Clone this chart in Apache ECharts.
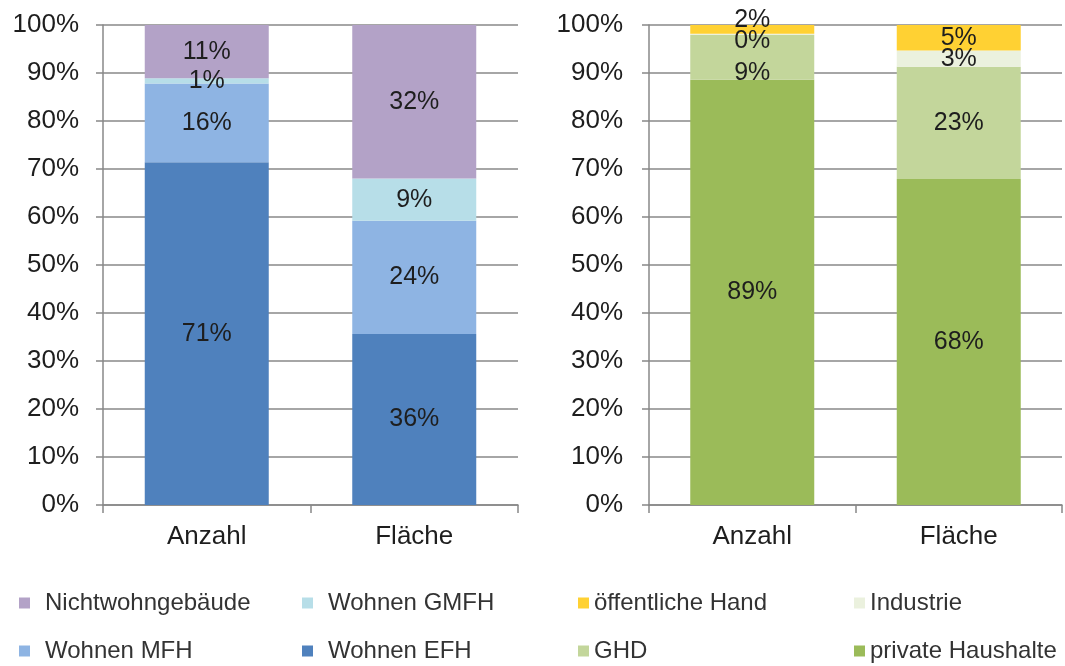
<!DOCTYPE html>
<html>
<head>
<meta charset="utf-8">
<script src="https://cdn.jsdelivr.net/npm/echarts@6/dist/echarts.min.js"></script>
<style>
  html, body { margin: 0; padding: 0; background: #fff; }
  #chart { width: 1065px; height: 666px; }
</style>
</head>
<body>
<div id="chart"></div>
<script>
// Kategorien (beide Diagramme)
const categories = ['Anzahl', 'Fläche']
const yTicks = [0, 10, 20, 30, 40, 50, 60, 70, 80, 90, 100]

// linkes Diagramm: Gebäudetypen (Anteile in %)
const wohnenEFH = [71.4, 35.6]
const wohnenMFH = [16.4, 23.6]
const wohnenGMFH = [1.1, 8.8]
const nichtwohn = [11.1, 32.0]

// rechtes Diagramm: Eigentümer (Anteile in %)
const privateHH = [88.6, 67.9]
const ghd = [9.3, 23.4]
const industrie = [0.3, 3.4]
const oeffentlich = [1.8, 5.3]

const font = 'Liberation Sans, Arial, sans-serif'
const gridColor = '#888888'

var myChart = echarts.init(document.getElementById('chart'))

const pct = p => Math.round(p.value) + '%'

// Serie bauen; offsets nur für Beschriftungen, die sich sonst überlappen
const makeSeries = (name, data, color, idx, offsets) => ({
  name: name,
  type: 'bar',
  stack: 'st' + idx,
  xAxisIndex: idx,
  yAxisIndex: idx,
  barWidth: 124,
  itemStyle: { color: color },
  label: {
    show: true,
    position: 'inside',
    formatter: pct,
    fontFamily: font,
    fontSize: 25,
    color: '#1e1e1e'
  },
  data: data.map((v, i) => offsets && offsets[i] ? { value: v, label: { offset: offsets[i] } } : v)
})

const xAxisCfg = idx => ({
  type: 'category',
  gridIndex: idx,
  data: categories,
  axisLine: { lineStyle: { color: gridColor, width: 1.5 } },
  axisTick: { show: true, length: 8, lineStyle: { color: gridColor, width: 1.5 } },
  axisLabel: { color: '#1e1e1e', fontFamily: font, fontSize: 26, margin: 19 }
})

const yAxisCfg = (idx, margin) => ({
  type: 'value',
  gridIndex: idx,
  min: 0,
  max: 100,
  interval: 10,
  axisLine: { show: true, lineStyle: { color: gridColor, width: 1.5 } },
  axisTick: { show: true, length: 7, lineStyle: { color: gridColor, width: 1.5 } },
  splitLine: { lineStyle: { color: gridColor, width: 1.5 } },
  axisLabel: { color: '#1e1e1e', fontFamily: font, fontSize: 26, margin: margin, formatter: v => yTicks.includes(v) ? v + '%' : '' }
})

// jede Legendenzeile einzeln, damit die Spalten fest stehen
const legendCfg = (left, top, name, pad) => ({
  left: left,
  top: top,
  itemWidth: 11,
  itemHeight: 11,
  icon: 'rect',
  data: [name],
  selectedMode: false,
  textStyle: { fontFamily: font, fontSize: 24, color: '#333', lineHeight: 24, padding: [0, 0, 0, pad] }
})

var option = {
  animation: false,
  grid: [
    { left: 103, top: 25, width: 415, height: 480 },
    { left: 649, top: 25, width: 413, height: 480 }
  ],
  xAxis: [xAxisCfg(0), xAxisCfg(1)],
  yAxis: [yAxisCfg(0, 24), yAxisCfg(1, 26)],
  legend: [
    legendCfg(14, 586, 'Nichtwohngebäude', 10),
    legendCfg(14, 634, 'Wohnen MFH', 10),
    legendCfg(297, 586, 'Wohnen GMFH', 10),
    legendCfg(297, 634, 'Wohnen EFH', 10),
    legendCfg(573, 586, 'öffentliche Hand', 0),
    legendCfg(573, 634, 'GHD', 0),
    legendCfg(849, 586, 'Industrie', 0),
    legendCfg(849, 634, 'private Haushalte', 0)
  ],
  series: [
    makeSeries('Wohnen EFH', wohnenEFH, '#4f81bd', 0),
    makeSeries('Wohnen MFH', wohnenMFH, '#8eb4e3', 0),
    makeSeries('Wohnen GMFH', wohnenGMFH, '#b7dee8', 0),
    makeSeries('Nichtwohngebäude', nichtwohn, '#b3a2c7', 0),
    makeSeries('private Haushalte', privateHH, '#9bbb59', 1),
    makeSeries('GHD', ghd, '#c3d69b', 1, [[0, 16]]),
    makeSeries('Industrie', industrie, '#ebf1de', 1, [[0, 7], [0, 1]]),
    makeSeries('öffentliche Hand', oeffentlich, '#ffd133', 1, [[0, -9]])
  ]
}

myChart.setOption(option)
</script>
</body>
</html>
